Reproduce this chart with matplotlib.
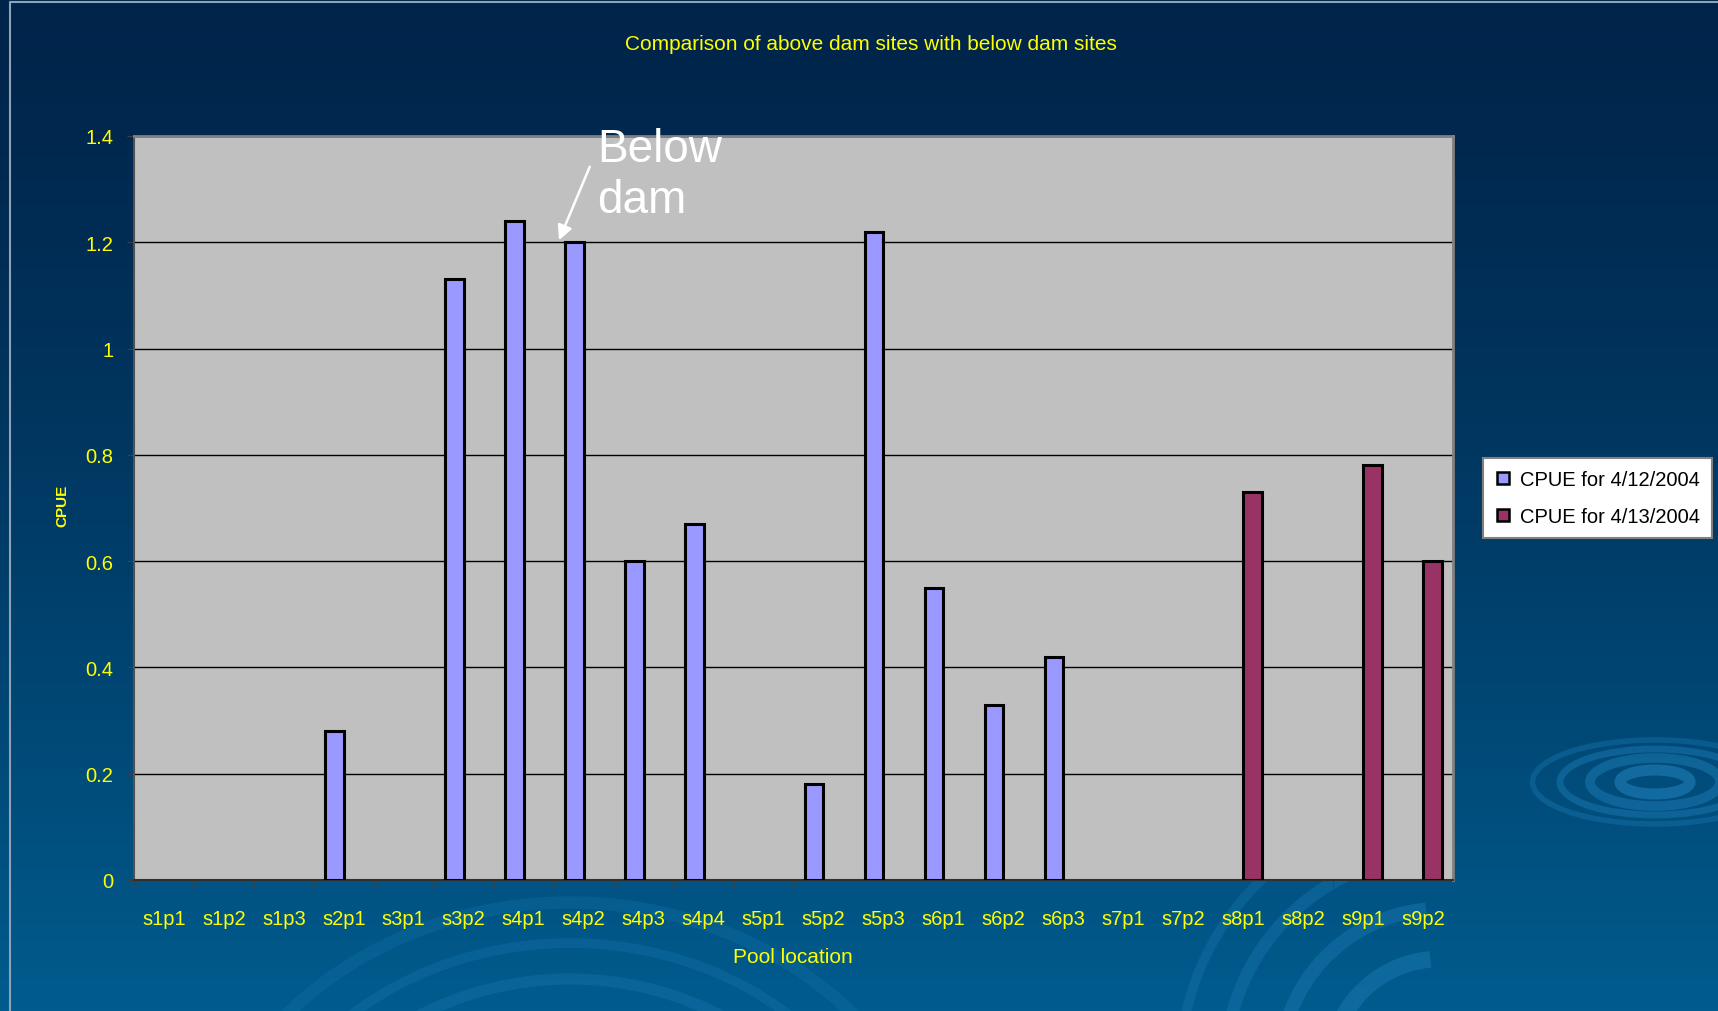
import numpy as np
import matplotlib.pyplot as plt
from matplotlib.patches import Arc, Ellipse
from matplotlib.lines import Line2D

plt.rcParams['font.family'] = ['Liberation Sans', 'DejaVu Sans']

pools = ['s1p1', 's1p2', 's1p3', 's2p1', 's3p1', 's3p2', 's4p1', 's4p2', 's4p3', 's4p4', 's5p1',
         's5p2', 's5p3', 's6p1', 's6p2', 's6p3', 's7p1', 's7p2', 's8p1', 's8p2', 's9p1', 's9p2']
nan = np.nan
cpue_0412 = [nan, nan, nan, 0.28, nan, 1.13, 1.24, 1.20, 0.60, 0.67, nan,
             0.18, 1.22, 0.55, 0.33, 0.42, nan, nan, nan, nan, nan, nan]
cpue_0413 = [nan, nan, nan, nan, nan, nan, nan, nan, nan, nan, nan,
             nan, nan, nan, nan, nan, nan, nan, 0.73, nan, 0.78, 0.60]
label_0412 = 'CPUE for 4/12/2004'
label_0413 = 'CPUE for 4/13/2004'

W, H = 1718, 1012
fig = plt.figure(figsize=(W / 100, H / 100), dpi=100)

# slide background: vertical gradient plus some ripple rings
bg = fig.add_axes([0, 0, 1, 1], zorder=-10)
grad = np.linspace(0, 1, 256)[:, None]
top = np.array([0, 36, 74]) / 255
bot = np.array([0, 92, 142]) / 255
img = top + (bot - top) * (grad ** 1.3)[:, :, None] * np.ones((1, 2, 1))
bg.imshow(img, aspect='auto', extent=[0, W, H, 0])
ring = '#1b78b0'
for r, lw, a in [(300, 8, 0.35), (340, 7, 0.3), (385, 9, 0.25)]:
    bg.add_patch(Arc((570, 1250), 2 * r, 2 * r * 0.9, theta1=205, theta2=335,
                     color=ring, lw=lw, alpha=a))
for r, lw, a in [(110, 12, 0.5), (160, 10, 0.45), (215, 9, 0.4), (260, 7, 0.35)]:
    bg.add_patch(Arc((1440, 1070), 2 * r, 2 * r, theta1=95, theta2=265,
                     color=ring, lw=lw, alpha=a))
for w, h, lw, a in [(70, 24, 8, 0.7), (130, 48, 7, 0.55), (190, 66, 5, 0.5), (245, 84, 4, 0.4)]:
    bg.add_patch(Ellipse((1655, 783), w, h, fill=False, color=ring, lw=lw, alpha=a))
bg.plot([10, 10, W], [H, 3, 3], color='#8ea3b8', lw=1.5)
bg.set_xlim(0, W)
bg.set_ylim(H, 0)
bg.axis('off')

ax = fig.add_axes([134 / W, 1 - 881 / H, 1319 / W, 744 / H])
ax.set_facecolor('#c0c0c0')
x = np.arange(len(pools))
bw = 0.31
ax.bar(x - bw / 2, cpue_0412, bw, color='#9999ff', edgecolor='black', lw=2.2,
       label=label_0412, zorder=3)
ax.bar(x + bw / 2, cpue_0413, bw, color='#993366', edgecolor='black', lw=2.2,
       label=label_0413, zorder=3)

ax.set_xlim(-0.5, len(pools) - 0.5)
ax.set_ylim(0, 1.4)
ax.set_yticks(np.arange(0, 1.41, 0.2))
ax.set_yticklabels(['0', '0.2', '0.4', '0.6', '0.8', '1', '1.2', '1.4'])
ax.yaxis.grid(True, color='black', lw=1, zorder=1)
ax.set_axisbelow(True)

ax.set_xticks(x)
ax.set_xticklabels(pools)
ax.set_xticks(np.arange(-0.5, len(pools)), minor=True)
ax.tick_params(axis='x', which='major', length=0, pad=21, labelsize=14.5, labelcolor='#ffff00')
ax.tick_params(axis='x', which='minor', length=5, color='#404040', direction='out')
ax.tick_params(axis='y', length=5, color='#404040', pad=10, labelsize=14.5, labelcolor='#ffff00')

for side in ['top', 'right']:
    ax.spines[side].set_color('#808080')
    ax.spines[side].set_linewidth(2)
ax.spines['left'].set_color('#505050')
ax.spines['bottom'].set_color('#303030')
ax.spines['left'].set_linewidth(1.5)
ax.spines['bottom'].set_linewidth(1.5)

fig.text(871 / W, 1 - 44 / H, 'Comparison of above dam sites with below dam sites',
         color='#ffff00', fontsize=15, ha='center', va='center')
fig.text(793 / W, 1 - 958 / H, 'Pool location', color='#ffff00', fontsize=15,
         ha='center', va='center')
fig.text(62 / W, 1 - 506 / H, 'CPUE', color='#ffff00', fontsize=11, fontweight='bold',
         rotation=90, ha='center', va='center')

ax.annotate('', xy=(6.57, 1.199), xytext=(7.12, 1.347),
            arrowprops=dict(arrowstyle='-|>', color='white', lw=1.8, mutation_scale=22),
            annotation_clip=False, zorder=5)
ax.text(7.22, 1.257, 'Below\ndam', color='white', fontsize=33, ha='left', va='baseline',
        linespacing=1.2, clip_on=False, zorder=5)

handles = [Line2D([], [], ls='none', marker='s', ms=9, mfc='#9999ff', mec='black', mew=1.8),
           Line2D([], [], ls='none', marker='s', ms=9, mfc='#993366', mec='black', mew=1.8)]
leg = fig.legend(handles, [label_0412, label_0413], loc='upper left',
                 bbox_to_anchor=(1483 / W, 1 - 459 / H), fontsize=14.5, frameon=True,
                 fancybox=False, edgecolor='#808080', facecolor='white', framealpha=1,
                 borderpad=0.6, labelspacing=0.9, handlelength=0.8, handletextpad=0.45,
                 borderaxespad=0)
leg.get_frame().set_linewidth(1.5)

fig.savefig('out.png', dpi=100)
